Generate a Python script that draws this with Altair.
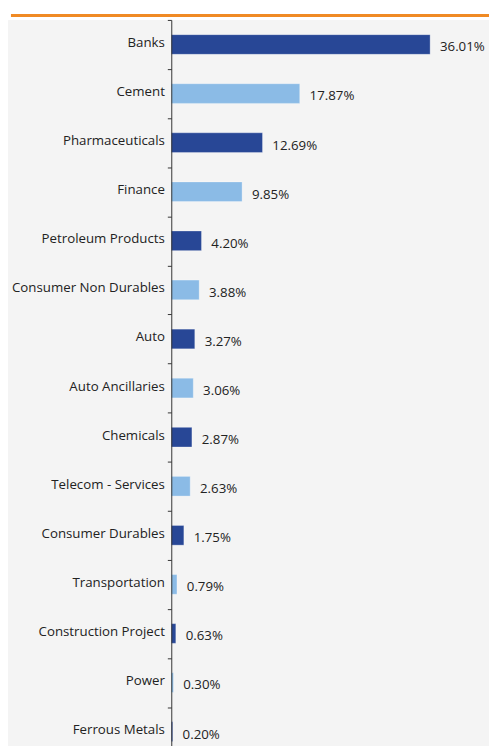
import altair as alt
import pandas as pd

categories = ["Banks", "Cement", "Pharmaceuticals", "Finance", "Petroleum Products",
              "Consumer Non Durables", "Auto", "Auto Ancillaries", "Chemicals",
              "Telecom - Services", "Consumer Durables", "Transportation",
              "Construction Project", "Power", "Ferrous Metals"]
values = [36.01, 17.87, 12.69, 9.85, 4.20, 3.88, 3.27, 3.06, 2.87, 2.63, 1.75, 0.79, 0.63, 0.30, 0.20]

df = pd.DataFrame({"sector": categories, "weight": values})
df["shade"] = [i % 2 for i in range(len(df))]
df["label"] = [f"{v:.2f}%" for v in values]

FONT = "Open Sans"
W, H = 323, 738
STEP = 49.9
Y0 = 6.0

yscale = alt.Scale(domain=categories, range=[Y0, Y0 + 15 * STEP], paddingInner=0, paddingOuter=0)
xscale = alt.Scale(domain=[0, 44.2])

bg = alt.Chart(alt.Data(values=[{}])).mark_rect(color="#f4f4f4", cornerRadius=10).encode(
    x=alt.value(-174), x2=alt.value(W + 10), y=alt.value(6), y2=alt.value(H + 30)
)
orange = alt.Chart(alt.Data(values=[{}])).mark_rule(color="#f08a24", strokeWidth=3).encode(
    x=alt.value(-163), x2=alt.value(W + 10), y=alt.value(1.5)
)

bars = alt.Chart(df).mark_bar(height=20, stroke="white", strokeOpacity=0.3, strokeWidth=1).encode(
    y=alt.Y("sector:N", scale=yscale, sort=categories,
            axis=alt.Axis(title=None, tickBand="extent", tickOffset=5, labelOffset=-2, tickSize=4,
                          tickColor="#333", domainColor="#333", labelFont=FONT,
                          labelFontSize=13.5, labelColor="#222", labelPadding=3, zindex=1)),
    x=alt.X("weight:Q", scale=xscale, axis=None),
    color=alt.Color("shade:N", scale=alt.Scale(domain=[0, 1], range=["#284796", "#8bbbe6"]), legend=None),
)

text = alt.Chart(df).mark_text(align="left", baseline="middle", dx=10, dy=3,
                               font=FONT, fontSize=13.5, color="#222").encode(
    y=alt.Y("sector:N", scale=yscale, sort=categories),
    x=alt.X("weight:Q", scale=xscale),
    text="label:N",
)

chart = alt.layer(bg, orange, bars, text).properties(
    width=W, height=H,
    autosize=alt.AutoSizeParams(type="none"),
    padding={"left": 166, "top": 0, "right": 0, "bottom": 0},
).configure(background="white").configure_view(stroke=None)

chart.save("out.html", embed_options={"renderer": "svg", "actions": False})
